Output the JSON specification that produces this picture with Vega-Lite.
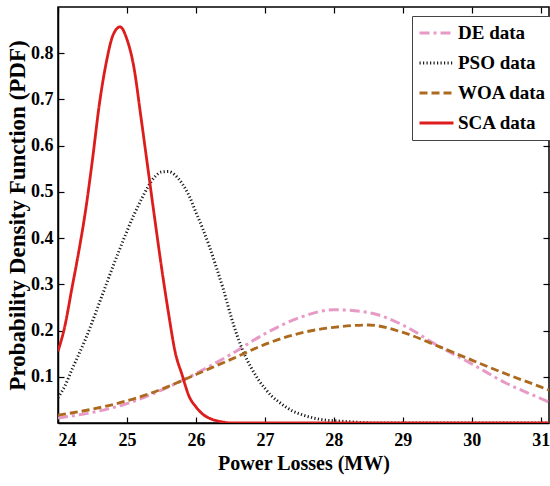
{
  "$schema": "https://vega.github.io/schema/vega-lite/v6.json",
  "width": 491,
  "height": 416,
  "autosize": {"type": "none"},
  "padding": {"left": 58, "top": 7, "right": 1, "bottom": 63},
  "background": "#ffffff",
  "config": {
    "view": {"stroke": "#000000", "strokeWidth": 1.5},
    "font": "Liberation Serif",
    "axis": {
      "grid": false,
      "domainColor": "#000000",
      "domainWidth": 1.5,
      "tickColor": "#000000",
      "tickWidth": 1.2,
      "tickSize": -6,
      "labelFont": "Liberation Serif",
      "labelFontSize": 18,
      "labelFontWeight": "bold",
      "labelColor": "#000000",
      "titleFont": "Liberation Serif",
      "titleColor": "#000000"
    }
  },
  "data": {
    "values": [
      {"x": 24.0, "y": 0.011, "method": "DE data"},
      {"x": 24.5, "y": 0.023, "method": "DE data"},
      {"x": 25.0, "y": 0.042, "method": "DE data"},
      {"x": 25.5, "y": 0.071, "method": "DE data"},
      {"x": 26.0, "y": 0.107, "method": "DE data"},
      {"x": 26.5, "y": 0.148, "method": "DE data"},
      {"x": 27.0, "y": 0.193, "method": "DE data"},
      {"x": 27.5, "y": 0.228, "method": "DE data"},
      {"x": 28.0, "y": 0.245, "method": "DE data"},
      {"x": 28.5, "y": 0.239, "method": "DE data"},
      {"x": 29.0, "y": 0.212, "method": "DE data"},
      {"x": 29.5, "y": 0.168, "method": "DE data"},
      {"x": 30.0, "y": 0.128, "method": "DE data"},
      {"x": 30.5, "y": 0.086, "method": "DE data"},
      {"x": 31.0, "y": 0.053, "method": "DE data"},
      {"x": 31.12, "y": 0.045, "method": "DE data"},

      {"x": 24.0, "y": 0.055, "method": "PSO data"},
      {"x": 24.1, "y": 0.08, "method": "PSO data"},
      {"x": 24.2, "y": 0.115, "method": "PSO data"},
      {"x": 24.3, "y": 0.148, "method": "PSO data"},
      {"x": 24.4, "y": 0.182, "method": "PSO data"},
      {"x": 24.5, "y": 0.22, "method": "PSO data"},
      {"x": 24.6, "y": 0.26, "method": "PSO data"},
      {"x": 24.7, "y": 0.3, "method": "PSO data"},
      {"x": 24.8, "y": 0.34, "method": "PSO data"},
      {"x": 24.9, "y": 0.378, "method": "PSO data"},
      {"x": 25.0, "y": 0.415, "method": "PSO data"},
      {"x": 25.1, "y": 0.45, "method": "PSO data"},
      {"x": 25.2, "y": 0.481, "method": "PSO data"},
      {"x": 25.3, "y": 0.51, "method": "PSO data"},
      {"x": 25.4, "y": 0.532, "method": "PSO data"},
      {"x": 25.5, "y": 0.543, "method": "PSO data"},
      {"x": 25.6, "y": 0.544, "method": "PSO data"},
      {"x": 25.7, "y": 0.536, "method": "PSO data"},
      {"x": 25.8, "y": 0.518, "method": "PSO data"},
      {"x": 25.9, "y": 0.492, "method": "PSO data"},
      {"x": 26.0, "y": 0.456, "method": "PSO data"},
      {"x": 26.1, "y": 0.42, "method": "PSO data"},
      {"x": 26.2, "y": 0.38, "method": "PSO data"},
      {"x": 26.3, "y": 0.335, "method": "PSO data"},
      {"x": 26.4, "y": 0.288, "method": "PSO data"},
      {"x": 26.5, "y": 0.235, "method": "PSO data"},
      {"x": 26.6, "y": 0.188, "method": "PSO data"},
      {"x": 26.7, "y": 0.15, "method": "PSO data"},
      {"x": 26.8, "y": 0.12, "method": "PSO data"},
      {"x": 26.9, "y": 0.095, "method": "PSO data"},
      {"x": 27.0, "y": 0.075, "method": "PSO data"},
      {"x": 27.1, "y": 0.058, "method": "PSO data"},
      {"x": 27.2, "y": 0.046, "method": "PSO data"},
      {"x": 27.3, "y": 0.035, "method": "PSO data"},
      {"x": 27.4, "y": 0.026, "method": "PSO data"},
      {"x": 27.5, "y": 0.02, "method": "PSO data"},
      {"x": 27.6, "y": 0.015, "method": "PSO data"},
      {"x": 27.7, "y": 0.011, "method": "PSO data"},
      {"x": 27.8, "y": 0.008, "method": "PSO data"},
      {"x": 27.9, "y": 0.006, "method": "PSO data"},
      {"x": 28.0, "y": 0.005, "method": "PSO data"},
      {"x": 28.3, "y": 0.002, "method": "PSO data"},
      {"x": 28.6, "y": 0.0, "method": "PSO data"},
      {"x": 29.5, "y": 0.0, "method": "PSO data"},
      {"x": 30.5, "y": 0.0, "method": "PSO data"},
      {"x": 31.12, "y": 0.0, "method": "PSO data"},

      {"x": 24.0, "y": 0.017, "method": "WOA data"},
      {"x": 24.5, "y": 0.03, "method": "WOA data"},
      {"x": 25.0, "y": 0.048, "method": "WOA data"},
      {"x": 25.5, "y": 0.073, "method": "WOA data"},
      {"x": 26.0, "y": 0.105, "method": "WOA data"},
      {"x": 26.5, "y": 0.137, "method": "WOA data"},
      {"x": 27.0, "y": 0.17, "method": "WOA data"},
      {"x": 27.5, "y": 0.194, "method": "WOA data"},
      {"x": 28.0, "y": 0.207, "method": "WOA data"},
      {"x": 28.5, "y": 0.212, "method": "WOA data"},
      {"x": 29.0, "y": 0.196, "method": "WOA data"},
      {"x": 29.5, "y": 0.167, "method": "WOA data"},
      {"x": 30.0, "y": 0.136, "method": "WOA data"},
      {"x": 30.5, "y": 0.106, "method": "WOA data"},
      {"x": 31.0, "y": 0.078, "method": "WOA data"},
      {"x": 31.12, "y": 0.071, "method": "WOA data"},

      {"x": 24.0, "y": 0.155, "method": "SCA data"},
      {"x": 24.1, "y": 0.21, "method": "SCA data"},
      {"x": 24.2, "y": 0.29, "method": "SCA data"},
      {"x": 24.3, "y": 0.37, "method": "SCA data"},
      {"x": 24.4, "y": 0.46, "method": "SCA data"},
      {"x": 24.5, "y": 0.57, "method": "SCA data"},
      {"x": 24.6, "y": 0.69, "method": "SCA data"},
      {"x": 24.7, "y": 0.78, "method": "SCA data"},
      {"x": 24.8, "y": 0.84, "method": "SCA data"},
      {"x": 24.9, "y": 0.857, "method": "SCA data"},
      {"x": 25.0, "y": 0.83, "method": "SCA data"},
      {"x": 25.1, "y": 0.77, "method": "SCA data"},
      {"x": 25.2, "y": 0.665, "method": "SCA data"},
      {"x": 25.3, "y": 0.555, "method": "SCA data"},
      {"x": 25.4, "y": 0.445, "method": "SCA data"},
      {"x": 25.5, "y": 0.338, "method": "SCA data"},
      {"x": 25.6, "y": 0.24, "method": "SCA data"},
      {"x": 25.7, "y": 0.153, "method": "SCA data"},
      {"x": 25.8, "y": 0.104, "method": "SCA data"},
      {"x": 25.9, "y": 0.058, "method": "SCA data"},
      {"x": 26.0, "y": 0.035, "method": "SCA data"},
      {"x": 26.1, "y": 0.019, "method": "SCA data"},
      {"x": 26.2, "y": 0.01, "method": "SCA data"},
      {"x": 26.3, "y": 0.005, "method": "SCA data"},
      {"x": 26.4, "y": 0.002, "method": "SCA data"},
      {"x": 26.5, "y": 0.0, "method": "SCA data"},
      {"x": 27.5, "y": 0.0, "method": "SCA data"},
      {"x": 29.0, "y": 0.0, "method": "SCA data"},
      {"x": 30.5, "y": 0.0, "method": "SCA data"},
      {"x": 31.12, "y": 0.0, "method": "SCA data"}
    ]
  },
  "layer": [
    {
      "mark": {"type": "line", "clip": true, "interpolate": "monotone"},
      "encoding": {
        "x": {
          "field": "x", "type": "quantitative",
          "scale": {"domain": [24, 31.12], "nice": false, "zero": false},
          "axis": {
            "orient": "bottom",
            "values": [24, 25, 26, 27, 28, 29, 30, 31],
            "title": "Power Losses (MW)",
            "titleFontSize": 20,
            "titleFontWeight": "bold",
            "titlePadding": 4,
            "labelPadding": 14
          }
        },
        "y": {
          "field": "y", "type": "quantitative",
          "scale": {"domain": [0, 0.9], "nice": false},
          "axis": {
            "orient": "left",
            "values": [0.1, 0.2, 0.3, 0.4, 0.5, 0.6, 0.7, 0.8],
            "format": ".1f",
            "title": "Probability Density Function (PDF)",
            "titleFontSize": 23,
            "titleFontWeight": "bold",
            "titlePadding": 1,
            "labelPadding": 11
          }
        },
        "color": {
          "field": "method", "type": "nominal",
          "scale": {
            "domain": ["DE data", "PSO data", "WOA data", "SCA data"],
            "range": ["#e89ac6", "#1a1a1a", "#ad6a1e", "#dd1c1c"]
          },
          "legend": {
            "title": null, "orient": "none", "legendX": 354, "legendY": 9, "clipHeight": 22,
            "padding": 6, "rowPadding": 8, "symbolType": "stroke", "symbolSize": 1156, "symbolStrokeWidth": 3,
            "labelFont": "Liberation Serif", "labelFontSize": 19, "labelFontWeight": "bold", "labelColor": "#000000",
            "labelOffset": 3, "labelLimit": 200, "strokeColor": "#444444", "fillColor": "#ffffff"
          }
        },
        "strokeDash": {
          "field": "method", "type": "nominal",
          "scale": {
            "domain": ["DE data", "PSO data", "WOA data", "SCA data"],
            "range": [[10, 4, 3, 4], [1.2, 2.3], [8, 4], [1, 0]]
          },
          "legend": {
            "title": null, "orient": "none", "legendX": 354, "legendY": 9, "clipHeight": 22,
            "padding": 6, "rowPadding": 8, "symbolType": "stroke", "symbolSize": 1156, "symbolStrokeWidth": 3,
            "labelFont": "Liberation Serif", "labelFontSize": 19, "labelFontWeight": "bold", "labelColor": "#000000",
            "labelOffset": 3, "labelLimit": 200, "strokeColor": "#444444", "fillColor": "#ffffff"
          }
        },
        "strokeWidth": {
          "field": "method", "type": "ordinal",
          "scale": {
            "domain": ["DE data", "PSO data", "WOA data", "SCA data"],
            "range": [3, 2.8, 3.6, 3.2]
          },
          "legend": null
        }
      }
    },
    {
      "mark": {"type": "line", "strokeOpacity": 0},
      "encoding": {
        "x": {
          "field": "x", "type": "quantitative",
          "axis": {"orient": "top", "values": [24, 25, 26, 27, 28, 29, 30, 31], "labels": false, "title": null, "domain": false}
        },
        "y": {
          "field": "y", "type": "quantitative",
          "axis": {"orient": "right", "values": [0.1, 0.2, 0.3, 0.4, 0.5, 0.6, 0.7, 0.8], "labels": false, "title": null, "domain": false}
        },
        "detail": {"field": "method", "type": "nominal"}
      }
    }
  ],
  "resolve": {"axis": {"x": "independent", "y": "independent"}}
}
